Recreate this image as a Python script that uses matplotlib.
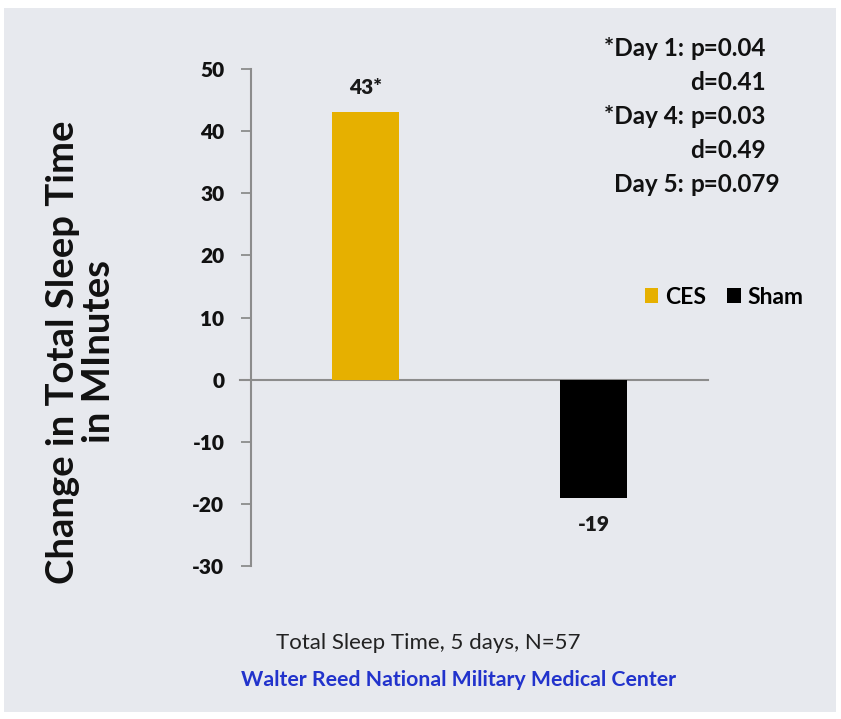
import matplotlib
matplotlib.use("Agg")
import matplotlib.pyplot as plt
from matplotlib.patches import Rectangle, Patch

plt.rcParams['font.family'] = ['Lato', 'DejaVu Sans']

categories = ["CES", "Sham"]
values = [43, -19]
bar_labels = ["43*", "-19"]
colors = ["#E6B000", "#000000"]
yticks = [-30, -20, -10, 0, 10, 20, 30, 40, 50]
stats_left = ["*Day 1:", "", "*Day 4:", "", "Day 5:"]
stats_right = ["p=0.04", "d=0.41", "p=0.03", "d=0.49", "p=0.079"]

W, H = 841, 719
fig = plt.figure(figsize=(W / 100, H / 100), dpi=100)
fig.patch.set_facecolor("white")
bg = "#E7E9EE"
fig.patches.append(Rectangle((4 / W, 1 - 712 / H), 832 / W, 704 / H,
                             transform=fig.transFigure, facecolor=bg,
                             edgecolor="none", zorder=-10))

def fx(px):
    return px / W

def fy(py):
    return 1 - py / H

ax = fig.add_axes([fx(251), fy(566), fx(708) - fx(251), fy(69) - fy(566)])
ax.set_facecolor("none")
x = list(range(len(categories)))
ax.bar(x, values, width=0.293, color=colors, zorder=3)
ax.set_xlim(-0.5, 1.5)
ax.set_ylim(-30, 50)
ax.set_yticks(yticks)
ax.set_yticklabels([str(t) for t in yticks], fontsize=15, fontweight="heavy",
                   color="#111111")
ax.tick_params(axis="y", direction="out", length=7.2, width=1.3,
               color="#8C8C8C", pad=12)
ax.set_xticks([])
for s in ["top", "right", "bottom"]:
    ax.spines[s].set_visible(False)
ax.spines["left"].set_color("#8C8C8C")
ax.spines["left"].set_linewidth(1.5)
ax.plot([-0.5 - 11 / 229, 1.5], [0, 0], color="#8C8C8C", lw=1.5,
        clip_on=False, zorder=2)

for xi, v, lab in zip(x, values, bar_labels):
    off = 4.0 if v > 0 else -4.4
    ax.text(xi, v + off, lab, ha="center", va="center", fontsize=15,
            fontweight="heavy", color="#1a1a1a")

# y label
fig.text(fx(81), fy(352), "Change in Total Sleep Time\nin MInutes",
         rotation=90, ha="center", va="center", fontsize=27.5,
         fontweight="bold", linespacing=1.1, color="#111111")

# stats block
ys = [49, 83, 116, 150, 184]
for yy, l, r in zip(ys, stats_left, stats_right):
    if l:
        fig.text(fx(684), fy(yy), l, ha="right", va="center", fontsize=17.5,
                 fontweight="bold", color="#111111")
    fig.text(fx(690), fy(yy), r, ha="left", va="center", fontsize=17.5,
             fontweight="bold", color="#111111")

# legend
handles = [Patch(facecolor=c, edgecolor="none") for c in colors]
leg = fig.legend(handles, categories, loc="center", ncol=2,
                 bbox_to_anchor=(fx(724), fy(297)), frameon=False,
                 prop={"size": 16.5, "weight": "bold"}, handlelength=0.6,
                 handleheight=0.6, handletextpad=0.3, columnspacing=0.9)

# bottom captions
fig.text(fx(428), fy(643), "Total Sleep Time, 5 days, N=57", ha="center",
         va="center", fontsize=16, color="#222222")
fig.text(fx(459), fy(680), "Walter Reed National Military Medical Center",
         ha="center", va="center", fontsize=15.3, fontweight="bold",
         color="#2233CC")

fig.savefig("out.png", dpi=100, facecolor="white")
